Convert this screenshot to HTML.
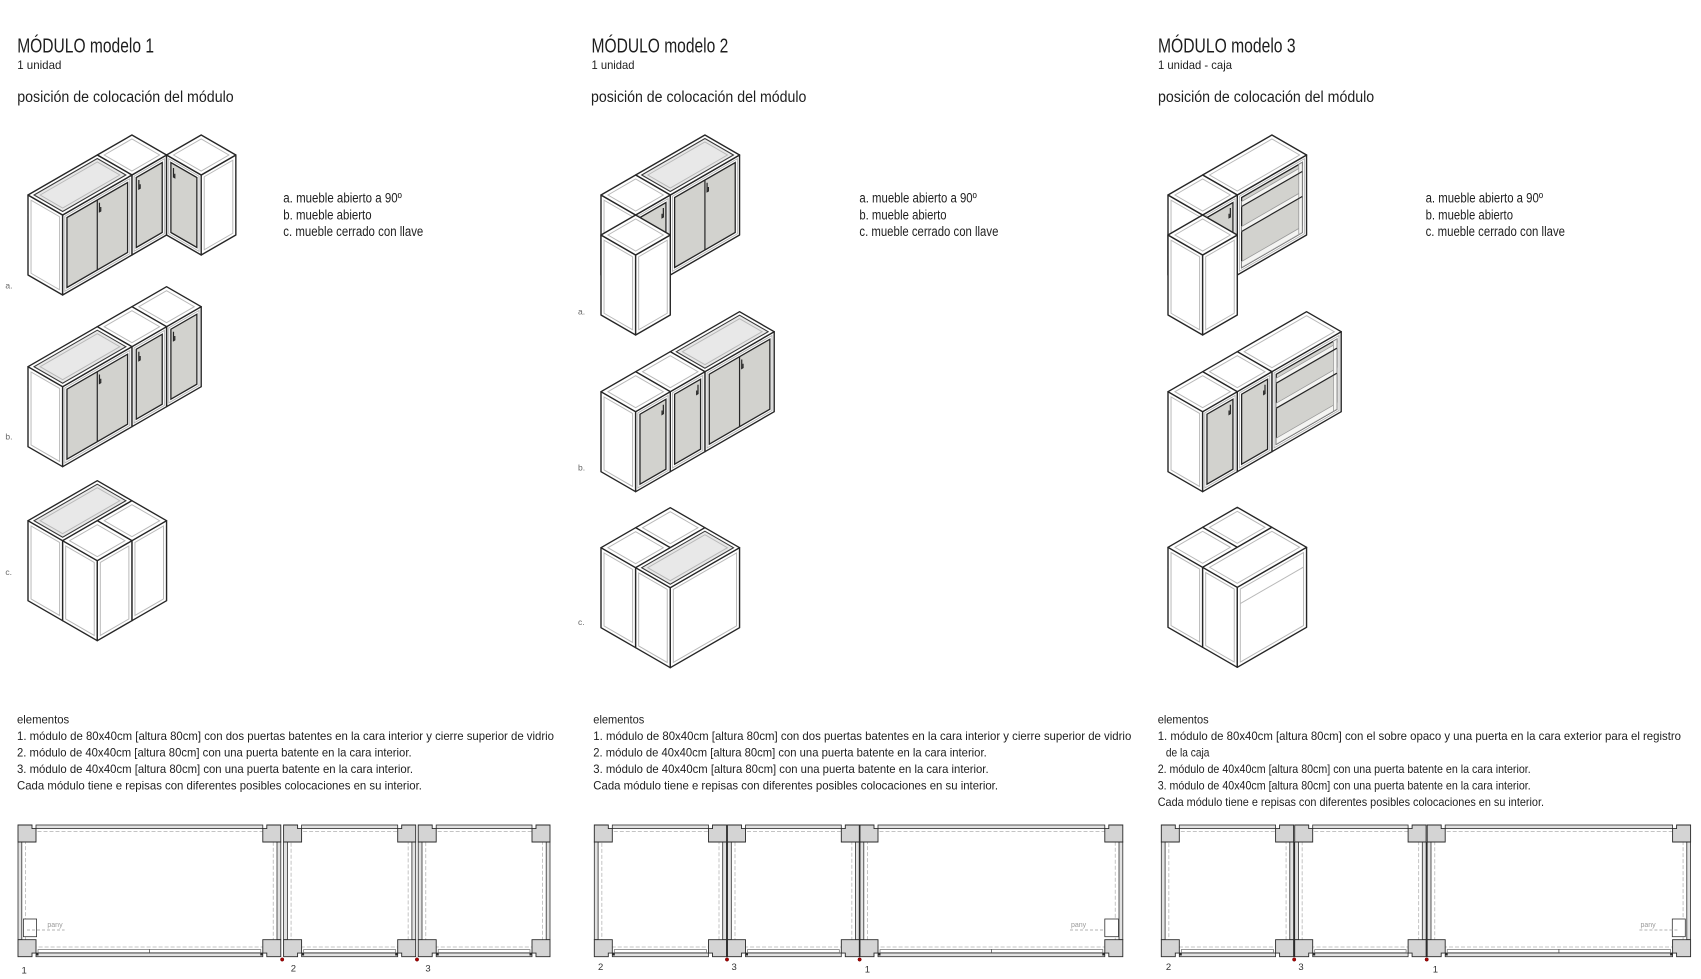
<!DOCTYPE html>
<html><head><meta charset="utf-8">
<style>
html,body{margin:0;padding:0;background:#fff}
svg{display:block}
text{font-family:"Liberation Sans",Arial,sans-serif;fill:#1e1e1e}
.o{fill:#fff;stroke:#262626;stroke-width:1.4;vector-effect:non-scaling-stroke;stroke-linejoin:round}
.i{fill:none;stroke:#b9b9b9;stroke-width:1;vector-effect:non-scaling-stroke}
.d{fill:#d2d2ce;stroke:#262626;stroke-width:1.3;vector-effect:non-scaling-stroke}
.dl{fill:none;stroke:#262626;stroke-width:1.2;vector-effect:non-scaling-stroke}
.gl{fill:#e8e8e8;stroke:#3a3a3a;stroke-width:1.1;vector-effect:non-scaling-stroke}
.sh{fill:#f4f4f2;stroke:#9a9a9a;stroke-width:.8;vector-effect:non-scaling-stroke}
.ws{fill:#e2e2e2;stroke:#2f2f2f;stroke-width:.8}
.dr{fill:#fff;stroke:#6a6a6a;stroke-width:.7}
.dash{fill:none;stroke:#c4c4c4;stroke-width:1;stroke-dasharray:4 2}
.blk{fill:#d4d4d4;stroke:#2a2a2a;stroke-width:.9}
.lab{fill:#666}
.pn{fill:#333}
.pany{fill:#9a9a9a}
</style></head>
<body>
<svg width="1701" height="979" viewBox="0 0 1701 979" xmlns="http://www.w3.org/2000/svg">
<defs>
<path id="btl" d="M0 0H14V3.6H18V17H0Z"/>
</defs>
<rect width="1701" height="979" fill="#fff"/>

<!-- ===== TITLES ===== -->
<text x="17.2" y="52.3" font-size="20.5" textLength="136.8" lengthAdjust="spacingAndGlyphs">MÓDULO modelo 1</text>
<text x="17.2" y="69" font-size="12" textLength="44.2" lengthAdjust="spacingAndGlyphs">1 unidad</text>
<text x="17.2" y="102" font-size="15.5" textLength="216.5" lengthAdjust="spacingAndGlyphs">posición de colocación del módulo</text>

<text x="591.5" y="52.3" font-size="20.5" textLength="136.8" lengthAdjust="spacingAndGlyphs">MÓDULO modelo 2</text>
<text x="591.5" y="69" font-size="12" textLength="43" lengthAdjust="spacingAndGlyphs">1 unidad</text>
<text x="591" y="102" font-size="15.5" textLength="215.4" lengthAdjust="spacingAndGlyphs">posición de colocación del módulo</text>

<text x="1158" y="52.3" font-size="20.5" textLength="137.6" lengthAdjust="spacingAndGlyphs">MÓDULO modelo 3</text>
<text x="1158" y="69" font-size="12" textLength="74" lengthAdjust="spacingAndGlyphs">1 unidad - caja</text>
<text x="1158" y="102" font-size="15.5" textLength="216.2" lengthAdjust="spacingAndGlyphs">posición de colocación del módulo</text>

<!-- legends -->
<text x="283.3" y="202.7" font-size="13.5" textLength="118.5" lengthAdjust="spacingAndGlyphs">a. mueble abierto a 90º</text>
<text x="283.3" y="219.3" font-size="13.5" textLength="88.3" lengthAdjust="spacingAndGlyphs">b. mueble abierto</text>
<text x="283.3" y="236" font-size="13.5" textLength="140" lengthAdjust="spacingAndGlyphs">c. mueble cerrado con llave</text>

<text x="859.4" y="202.7" font-size="13.5" textLength="117.4" lengthAdjust="spacingAndGlyphs">a. mueble abierto a 90º</text>
<text x="859.4" y="219.3" font-size="13.5" textLength="87.2" lengthAdjust="spacingAndGlyphs">b. mueble abierto</text>
<text x="859.4" y="236" font-size="13.5" textLength="139" lengthAdjust="spacingAndGlyphs">c. mueble cerrado con llave</text>

<text x="1425.6" y="202.7" font-size="13.5" textLength="117.4" lengthAdjust="spacingAndGlyphs">a. mueble abierto a 90º</text>
<text x="1425.6" y="219.3" font-size="13.5" textLength="87.4" lengthAdjust="spacingAndGlyphs">b. mueble abierto</text>
<text x="1425.6" y="236" font-size="13.5" textLength="139.4" lengthAdjust="spacingAndGlyphs">c. mueble cerrado con llave</text>

<!-- row labels -->
<text class="lab" x="5.4" y="288.5" font-size="8.5">a.</text>
<text class="lab" x="5.4" y="439.3" font-size="8.5">b.</text>
<text class="lab" x="5.4" y="575" font-size="8.5">c.</text>
<text class="lab" x="578" y="314.3" font-size="8.5">a.</text>
<text class="lab" x="578" y="470.7" font-size="8.5">b.</text>
<text class="lab" x="578" y="625" font-size="8.5">c.</text>

<!-- ===== MODEL 1 DRAWINGS ===== -->
<!-- 1a -->
<g transform="translate(28,275)">
<g transform="matrix(.866,-.5,0,-1,34.64,20)"><rect class="o" x="80" width="40" height="80"/><rect class="i" x="82.5" y="2.5" width="35" height="75"/><rect class="d" x="85" y="5" width="30" height="70"/><path class="dl" d="M88 71V62h1.5v4"/></g>
<g transform="matrix(.866,-.5,.866,.5,0,-80)"><rect class="o" x="80" y="0" width="40" height="40"/><rect class="i" x="84" y="4" width="32" height="32"/></g>
<g transform="matrix(.866,.5,0,-1,103.92,-60)"><rect class="o" x="40" width="40" height="80"/><rect class="i" x="42.5" y="2.5" width="35" height="75"/><rect class="d" x="45" y="5" width="30" height="70"/><path class="dl" d="M48 71V62h1.5v4"/></g>
<g transform="matrix(.866,-.5,0,-1,69.28,40)"><rect class="o" x="120" width="40" height="80"/><rect class="i" x="123.5" y="3.5" width="33" height="73"/></g>
<g transform="matrix(.866,-.5,.866,.5,0,-80)"><rect class="o" x="120" y="40" width="40" height="40"/><rect class="i" x="124" y="44" width="32" height="32"/></g>
<g transform="matrix(.866,.5,0,-1,0,0)"><rect class="o" x="0" width="40" height="80"/><rect class="i" x="3.5" y="3.5" width="33" height="73"/></g>
<g transform="matrix(.866,-.5,0,-1,34.64,20)"><rect class="o" x="0" width="80" height="80"/><rect class="i" x="2.5" y="2.5" width="75" height="75"/><rect class="d" x="5" y="5" width="70" height="70"/><path class="dl" d="M40 5V75M42.5 71V62h1.5v4"/></g>
<g transform="matrix(.866,-.5,.866,.5,0,-80)"><rect class="o" x="0" y="0" width="80" height="40"/><rect class="gl" x="3.5" y="3.5" width="73" height="33"/><rect class="i" x="7" y="7" width="66" height="26"/></g>
</g>

<!-- 1b -->
<g transform="translate(28,446.7)">
<g transform="matrix(.866,-.5,0,-1,34.64,20)"><rect class="o" x="120" width="40" height="80"/><rect class="i" x="122.5" y="2.5" width="35" height="75"/><rect class="d" x="125" y="5" width="30" height="70"/><path class="dl" d="M128 71V62h1.5v4"/></g>
<g transform="matrix(.866,-.5,.866,.5,0,-80)"><rect class="o" x="120" y="0" width="40" height="40"/><rect class="i" x="124" y="4" width="32" height="32"/></g>
<g transform="matrix(.866,-.5,0,-1,34.64,20)"><rect class="o" x="80" width="40" height="80"/><rect class="i" x="82.5" y="2.5" width="35" height="75"/><rect class="d" x="85" y="5" width="30" height="70"/><path class="dl" d="M88 71V62h1.5v4"/></g>
<g transform="matrix(.866,-.5,.866,.5,0,-80)"><rect class="o" x="80" y="0" width="40" height="40"/><rect class="i" x="84" y="4" width="32" height="32"/></g>
<g transform="matrix(.866,.5,0,-1,0,0)"><rect class="o" x="0" width="40" height="80"/><rect class="i" x="3.5" y="3.5" width="33" height="73"/></g>
<g transform="matrix(.866,-.5,0,-1,34.64,20)"><rect class="o" x="0" width="80" height="80"/><rect class="i" x="2.5" y="2.5" width="75" height="75"/><rect class="d" x="5" y="5" width="70" height="70"/><path class="dl" d="M40 5V75M42.5 71V62h1.5v4"/></g>
<g transform="matrix(.866,-.5,.866,.5,0,-80)"><rect class="o" x="0" y="0" width="80" height="40"/><rect class="gl" x="3.5" y="3.5" width="73" height="33"/><rect class="i" x="7" y="7" width="66" height="26"/></g>
</g>

<!-- 1c -->
<g transform="translate(28,600.7)">
<g transform="matrix(.866,.5,0,-1,0,0)"><rect class="o" x="0" width="40" height="80"/><rect class="i" x="3.5" y="3.5" width="33" height="73"/></g>
<g transform="matrix(.866,-.5,.866,.5,0,-80)"><rect class="o" x="0" y="0" width="80" height="40"/><rect class="gl" x="3.5" y="3.5" width="73" height="33"/><rect class="i" x="7" y="7" width="66" height="26"/></g>
<g transform="matrix(.866,-.5,0,-1,69.28,40)"><rect class="o" x="40" width="40" height="80"/><rect class="i" x="43.5" y="3.5" width="33" height="73"/></g>
<g transform="matrix(.866,-.5,.866,.5,0,-80)"><rect class="o" x="40" y="40" width="40" height="40"/><rect class="i" x="44" y="44" width="32" height="32"/></g>
<g transform="matrix(.866,.5,0,-1,0,0)"><rect class="o" x="40" width="40" height="80"/><rect class="i" x="43.5" y="3.5" width="33" height="73"/></g>
<g transform="matrix(.866,-.5,0,-1,69.28,40)"><rect class="o" x="0" width="40" height="80"/><rect class="i" x="3.5" y="3.5" width="33" height="73"/></g>
<g transform="matrix(.866,-.5,.866,.5,0,-80)"><rect class="o" x="0" y="40" width="40" height="40"/><rect class="i" x="4" y="44" width="32" height="32"/></g>
</g>

<!-- ===== MODEL 2 DRAWINGS ===== -->
<!-- 2a -->
<g transform="translate(601,275)">
<g transform="matrix(.866,-.5,0,-1,34.64,20)"><rect class="o" x="40" width="80" height="80"/><rect class="i" x="42.5" y="2.5" width="75" height="75"/><rect class="d" x="45" y="5" width="70" height="70"/><path class="dl" d="M80 5V75M82.5 71V62h1.5v4"/></g>
<g transform="matrix(.866,-.5,.866,.5,0,-80)"><rect class="o" x="40" y="0" width="80" height="40"/><rect class="gl" x="43.5" y="3.5" width="73" height="33"/><rect class="i" x="47" y="7" width="66" height="26"/></g>
<g transform="matrix(.866,.5,0,-1,0,0)"><rect class="o" x="0" width="40" height="80"/><rect class="i" x="3.5" y="3.5" width="33" height="73"/></g>
<g transform="matrix(.866,-.5,0,-1,34.64,20)"><rect class="o" x="0" width="40" height="80"/><rect class="i" x="2.5" y="2.5" width="35" height="75"/><rect class="d" x="5" y="5" width="30" height="70"/><path class="dl" d="M32 71V62h-1.5v4"/></g>
<g transform="matrix(.866,-.5,.866,.5,0,-80)"><rect class="o" x="0" y="0" width="40" height="40"/><rect class="i" x="4" y="4" width="32" height="32"/></g>
<g transform="matrix(.866,.5,0,-1,-34.64,20)"><rect class="o" x="40" width="40" height="80"/><rect class="i" x="43.5" y="3.5" width="33" height="73"/></g>
<g transform="matrix(.866,-.5,0,-1,69.28,40)"><rect class="o" x="-40" width="40" height="80"/><rect class="i" x="-36.5" y="3.5" width="33" height="73"/></g>
<g transform="matrix(.866,-.5,.866,.5,0,-80)"><rect class="o" x="-40" y="40" width="40" height="40"/><rect class="i" x="-36" y="44" width="32" height="32"/></g>
</g>

<!-- 2b -->
<g transform="translate(601,471.7)">
<g transform="matrix(.866,-.5,0,-1,34.64,20)"><rect class="o" x="80" width="80" height="80"/><rect class="i" x="82.5" y="2.5" width="75" height="75"/><rect class="d" x="85" y="5" width="70" height="70"/><path class="dl" d="M120 5V75M122.5 71V62h1.5v4"/></g>
<g transform="matrix(.866,-.5,.866,.5,0,-80)"><rect class="o" x="80" y="0" width="80" height="40"/><rect class="gl" x="83.5" y="3.5" width="73" height="33"/><rect class="i" x="87" y="7" width="66" height="26"/></g>
<g transform="matrix(.866,-.5,0,-1,34.64,20)"><rect class="o" x="40" width="40" height="80"/><rect class="i" x="42.5" y="2.5" width="35" height="75"/><rect class="d" x="45" y="5" width="30" height="70"/><path class="dl" d="M72 71V62h-1.5v4"/></g>
<g transform="matrix(.866,-.5,.866,.5,0,-80)"><rect class="o" x="40" y="0" width="40" height="40"/><rect class="i" x="44" y="4" width="32" height="32"/></g>
<g transform="matrix(.866,.5,0,-1,0,0)"><rect class="o" x="0" width="40" height="80"/><rect class="i" x="3.5" y="3.5" width="33" height="73"/></g>
<g transform="matrix(.866,-.5,0,-1,34.64,20)"><rect class="o" x="0" width="40" height="80"/><rect class="i" x="2.5" y="2.5" width="35" height="75"/><rect class="d" x="5" y="5" width="30" height="70"/><path class="dl" d="M32 71V62h-1.5v4"/></g>
<g transform="matrix(.866,-.5,.866,.5,0,-80)"><rect class="o" x="0" y="0" width="40" height="40"/><rect class="i" x="4" y="4" width="32" height="32"/></g>
</g>

<!-- 2c -->
<g transform="translate(601,627.7)">
<g transform="matrix(.866,-.5,.866,.5,0,-80)"><rect class="o" x="40" y="0" width="40" height="40"/><rect class="i" x="44" y="4" width="32" height="32"/></g>
<g transform="matrix(.866,.5,0,-1,0,0)"><rect class="o" x="0" width="40" height="80"/><rect class="i" x="3.5" y="3.5" width="33" height="73"/></g>
<g transform="matrix(.866,-.5,.866,.5,0,-80)"><rect class="o" x="0" y="0" width="40" height="40"/><rect class="i" x="4" y="4" width="32" height="32"/></g>
<g transform="matrix(.866,.5,0,-1,0,0)"><rect class="o" x="40" width="40" height="80"/><rect class="i" x="43.5" y="3.5" width="33" height="73"/></g>
<g transform="matrix(.866,-.5,0,-1,69.28,40)"><rect class="o" x="0" width="80" height="80"/><rect class="i" x="3.5" y="3.5" width="73" height="73"/></g>
<g transform="matrix(.866,-.5,.866,.5,0,-80)"><rect class="o" x="0" y="40" width="80" height="40"/><rect class="gl" x="3.5" y="43.5" width="73" height="33"/><rect class="i" x="7" y="47" width="66" height="26"/></g>
</g>

<!-- ===== MODEL 3 DRAWINGS ===== -->
<!-- 3a -->
<g transform="translate(1168,275)">
<g transform="matrix(.866,-.5,0,-1,34.64,20)"><rect class="o" x="40" width="80" height="80"/><rect class="i" x="42.5" y="2.5" width="75" height="75"/><rect class="d" x="45" y="5" width="70" height="70"/><rect class="sh" x="45" y="5" width="70" height="6"/><rect class="sh" x="45" y="41" width="70" height="5"/><rect class="sh" x="45" y="66" width="70" height="5"/><rect class="sh" x="111" y="5" width="4" height="70"/><path class="dl" d="M45 41H115M45 66H115"/></g>
<g transform="matrix(.866,-.5,.866,.5,0,-80)"><rect class="o" x="40" y="0" width="80" height="40"/><rect class="i" x="44" y="4" width="72" height="32"/></g>
<g transform="matrix(.866,.5,0,-1,0,0)"><rect class="o" x="0" width="40" height="80"/><rect class="i" x="3.5" y="3.5" width="33" height="73"/></g>
<g transform="matrix(.866,-.5,0,-1,34.64,20)"><rect class="o" x="0" width="40" height="80"/><rect class="i" x="2.5" y="2.5" width="35" height="75"/><rect class="d" x="5" y="5" width="30" height="70"/><path class="dl" d="M32 71V62h-1.5v4"/></g>
<g transform="matrix(.866,-.5,.866,.5,0,-80)"><rect class="o" x="0" y="0" width="40" height="40"/><rect class="i" x="4" y="4" width="32" height="32"/></g>
<g transform="matrix(.866,.5,0,-1,-34.64,20)"><rect class="o" x="40" width="40" height="80"/><rect class="i" x="43.5" y="3.5" width="33" height="73"/></g>
<g transform="matrix(.866,-.5,0,-1,69.28,40)"><rect class="o" x="-40" width="40" height="80"/><rect class="i" x="-36.5" y="3.5" width="33" height="73"/></g>
<g transform="matrix(.866,-.5,.866,.5,0,-80)"><rect class="o" x="-40" y="40" width="40" height="40"/><rect class="i" x="-36" y="44" width="32" height="32"/></g>
</g>

<!-- 3b -->
<g transform="translate(1168,471.7)">
<g transform="matrix(.866,-.5,0,-1,34.64,20)"><rect class="o" x="80" width="80" height="80"/><rect class="i" x="82.5" y="2.5" width="75" height="75"/><rect class="d" x="85" y="5" width="70" height="70"/><rect class="sh" x="85" y="5" width="70" height="6"/><rect class="sh" x="85" y="41" width="70" height="5"/><rect class="sh" x="85" y="66" width="70" height="5"/><rect class="sh" x="151" y="5" width="4" height="70"/><path class="dl" d="M85 41H155M85 66H155"/></g>
<g transform="matrix(.866,-.5,.866,.5,0,-80)"><rect class="o" x="80" y="0" width="80" height="40"/><rect class="i" x="84" y="4" width="72" height="32"/></g>
<g transform="matrix(.866,-.5,0,-1,34.64,20)"><rect class="o" x="40" width="40" height="80"/><rect class="i" x="42.5" y="2.5" width="35" height="75"/><rect class="d" x="45" y="5" width="30" height="70"/><path class="dl" d="M72 71V62h-1.5v4"/></g>
<g transform="matrix(.866,-.5,.866,.5,0,-80)"><rect class="o" x="40" y="0" width="40" height="40"/><rect class="i" x="44" y="4" width="32" height="32"/></g>
<g transform="matrix(.866,.5,0,-1,0,0)"><rect class="o" x="0" width="40" height="80"/><rect class="i" x="3.5" y="3.5" width="33" height="73"/></g>
<g transform="matrix(.866,-.5,0,-1,34.64,20)"><rect class="o" x="0" width="40" height="80"/><rect class="i" x="2.5" y="2.5" width="35" height="75"/><rect class="d" x="5" y="5" width="30" height="70"/><path class="dl" d="M32 71V62h-1.5v4"/></g>
<g transform="matrix(.866,-.5,.866,.5,0,-80)"><rect class="o" x="0" y="0" width="40" height="40"/><rect class="i" x="4" y="4" width="32" height="32"/></g>
</g>

<!-- 3c -->
<g transform="translate(1168,627.3)">
<g transform="matrix(.866,-.5,.866,.5,0,-80)"><rect class="o" x="40" y="0" width="40" height="40"/><rect class="i" x="44" y="4" width="32" height="32"/></g>
<g transform="matrix(.866,.5,0,-1,0,0)"><rect class="o" x="0" width="40" height="80"/><rect class="i" x="3.5" y="3.5" width="33" height="73"/></g>
<g transform="matrix(.866,-.5,.866,.5,0,-80)"><rect class="o" x="0" y="0" width="40" height="40"/><rect class="i" x="4" y="4" width="32" height="32"/></g>
<g transform="matrix(.866,.5,0,-1,0,0)"><rect class="o" x="40" width="40" height="80"/><rect class="i" x="43.5" y="3.5" width="33" height="73"/></g>
<g transform="matrix(.866,-.5,0,-1,69.28,40)"><rect class="o" x="0" width="80" height="80"/><rect class="i" x="3.5" y="3.5" width="73" height="73"/><path class="i" d="M3.5 62H76.5"/></g>
<g transform="matrix(.866,-.5,.866,.5,0,-80)"><rect class="o" x="0" y="40" width="80" height="40"/><rect class="i" x="4" y="44" width="72" height="32"/></g>
</g>

<!-- ===== ELEMENTOS TEXT ===== -->
<g font-size="12">
<text x="17" y="723.5" textLength="52.2" lengthAdjust="spacingAndGlyphs">elementos</text>
<text x="17" y="740" textLength="537" lengthAdjust="spacingAndGlyphs">1. módulo de 80x40cm [altura 80cm] con dos puertas batentes en la cara interior y cierre superior de vidrio</text>
<text x="17" y="756.5" textLength="394.6" lengthAdjust="spacingAndGlyphs">2. módulo de 40x40cm [altura 80cm] con una puerta batente en la cara interior.</text>
<text x="17" y="773" textLength="396" lengthAdjust="spacingAndGlyphs">3. módulo de 40x40cm [altura 80cm] con una puerta batente en la cara interior.</text>
<text x="17" y="789.5" textLength="404.9" lengthAdjust="spacingAndGlyphs">Cada módulo tiene e repisas con diferentes posibles colocaciones en su interior.</text>

<text x="593.3" y="723.5" textLength="51" lengthAdjust="spacingAndGlyphs">elementos</text>
<text x="593.3" y="740" textLength="538" lengthAdjust="spacingAndGlyphs">1. módulo de 80x40cm [altura 80cm] con dos puertas batentes en la cara interior y cierre superior de vidrio</text>
<text x="593.3" y="756.5" textLength="393.4" lengthAdjust="spacingAndGlyphs">2. módulo de 40x40cm [altura 80cm] con una puerta batente en la cara interior.</text>
<text x="593.3" y="773" textLength="395.3" lengthAdjust="spacingAndGlyphs">3. módulo de 40x40cm [altura 80cm] con una puerta batente en la cara interior.</text>
<text x="593.3" y="789.5" textLength="404.7" lengthAdjust="spacingAndGlyphs">Cada módulo tiene e repisas con diferentes posibles colocaciones en su interior.</text>

<text x="1157.7" y="723.5" textLength="51" lengthAdjust="spacingAndGlyphs">elementos</text>
<text x="1157.7" y="740" textLength="523.3" lengthAdjust="spacingAndGlyphs">1. módulo de 80x40cm [altura 80cm] con el sobre opaco y una puerta en la cara exterior para el registro</text>
<text x="1165.9" y="756.5" textLength="43.5" lengthAdjust="spacingAndGlyphs">de la caja</text>
<text x="1157.7" y="773" textLength="373" lengthAdjust="spacingAndGlyphs">2. módulo de 40x40cm [altura 80cm] con una puerta batente en la cara interior.</text>
<text x="1157.7" y="789.5" textLength="373" lengthAdjust="spacingAndGlyphs">3. módulo de 40x40cm [altura 80cm] con una puerta batente en la cara interior.</text>
<text x="1157.7" y="806" textLength="386.3" lengthAdjust="spacingAndGlyphs">Cada módulo tiene e repisas con diferentes posibles colocaciones en su interior.</text>
</g>

<!-- ===== PLANS ===== -->
<g class="dash">
<rect x="25.5" y="831.5" width="247.8" height="115.5"/>
<rect x="291.1" y="831.5" width="117.1" height="115.5"/>
<rect x="425.7" y="831.5" width="116.8" height="115.5"/>
<rect x="601.8" y="831.5" width="117.2" height="115.5"/>
<rect x="735" y="831.5" width="116.8" height="115.5"/>
<rect x="867.5" y="831.5" width="247.8" height="115.5"/>
<rect x="1168.8" y="831.5" width="117.3" height="115.5"/>
<rect x="1302.2" y="831.5" width="116.4" height="115.5"/>
<rect x="1434.7" y="831.5" width="248.4" height="115.5"/>
</g>

<g class="ws">
<!-- model 1 -->
<rect x="36" y="825" width="226.8" height="3.6"/><rect x="18" y="842" width="3.8" height="97.7"/><rect x="277" y="842" width="3.8" height="97.7"/><rect x="36" y="953" width="226.8" height="3.7"/>
<rect x="301.6" y="825" width="96.1" height="3.6"/><rect x="283.6" y="842" width="3.8" height="97.7"/><rect x="411.9" y="842" width="3.8" height="97.7"/><rect x="301.6" y="953" width="96.1" height="3.7"/>
<rect x="436.2" y="825" width="95.8" height="3.6"/><rect x="418.2" y="842" width="3.8" height="97.7"/><rect x="546.2" y="842" width="3.8" height="97.7"/><rect x="436.2" y="953" width="95.8" height="3.7"/>
<!-- model 2 -->
<rect x="612.3" y="825" width="96.2" height="3.6"/><rect x="594.3" y="842" width="3.8" height="97.7"/><rect x="722.7" y="842" width="3.8" height="97.7"/><rect x="612.3" y="953" width="96.2" height="3.7"/>
<rect x="745.5" y="825" width="95.8" height="3.6"/><rect x="727.5" y="842" width="3.8" height="97.7"/><rect x="855.5" y="842" width="3.8" height="97.7"/><rect x="745.5" y="953" width="95.8" height="3.7"/>
<rect x="878" y="825" width="226.8" height="3.6"/><rect x="860" y="842" width="3.8" height="97.7"/><rect x="1119" y="842" width="3.8" height="97.7"/><rect x="878" y="953" width="226.8" height="3.7"/>
<!-- model 3 -->
<rect x="1179.3" y="825" width="96.3" height="3.6"/><rect x="1161.3" y="842" width="3.8" height="97.7"/><rect x="1289.8" y="842" width="3.8" height="97.7"/><rect x="1179.3" y="953" width="96.3" height="3.7"/>
<rect x="1312.7" y="825" width="95.4" height="3.6"/><rect x="1294.7" y="842" width="3.8" height="97.7"/><rect x="1422.3" y="842" width="3.8" height="97.7"/><rect x="1312.7" y="953" width="95.4" height="3.7"/>
<rect x="1445.2" y="825" width="227.4" height="3.6"/><rect x="1427.2" y="842" width="3.8" height="97.7"/><rect x="1686.8" y="842" width="3.8" height="97.7"/><rect x="1445.2" y="953" width="227.4" height="3.7"/>
</g>

<g class="dr">
<rect x="38" y="949.6" width="222.8" height="3"/>
<rect x="303.6" y="949.6" width="92.1" height="3"/>
<rect x="438.2" y="949.6" width="91.8" height="3"/>
<rect x="614.3" y="949.6" width="92.2" height="3"/>
<rect x="747.5" y="949.6" width="91.8" height="3"/>
<rect x="880" y="949.6" width="222.8" height="3"/>
<rect x="1181.3" y="949.6" width="92.3" height="3"/>
<rect x="1314.7" y="949.6" width="91.4" height="3"/>
<rect x="1447.2" y="949.6" width="223.4" height="3"/>
</g>
<g stroke="#555" stroke-width=".8">
<line x1="149.4" y1="949" x2="149.4" y2="953"/>
<line x1="991.4" y1="949" x2="991.4" y2="953"/>
<line x1="1558.9" y1="949" x2="1558.9" y2="953"/>
</g>

<g stroke="#2a2a2a" stroke-width="1.4">
<line x1="727" y1="842" x2="727" y2="957"/>
<line x1="859.6" y1="842" x2="859.6" y2="957"/>
<line x1="1294.2" y1="842" x2="1294.2" y2="957"/>
<line x1="1426.7" y1="842" x2="1426.7" y2="957"/>
</g>

<g class="blk">
<use href="#btl" transform="translate(18,825)"/><use href="#btl" transform="translate(280.8,825) scale(-1,1)"/><use href="#btl" transform="translate(18,956.7) scale(1,-1)"/><use href="#btl" transform="translate(280.8,956.7) scale(-1,-1)"/>
<use href="#btl" transform="translate(283.6,825)"/><use href="#btl" transform="translate(415.7,825) scale(-1,1)"/><use href="#btl" transform="translate(283.6,956.7) scale(1,-1)"/><use href="#btl" transform="translate(415.7,956.7) scale(-1,-1)"/>
<use href="#btl" transform="translate(418.2,825)"/><use href="#btl" transform="translate(550,825) scale(-1,1)"/><use href="#btl" transform="translate(418.2,956.7) scale(1,-1)"/><use href="#btl" transform="translate(550,956.7) scale(-1,-1)"/>

<use href="#btl" transform="translate(594.3,825)"/><use href="#btl" transform="translate(726.5,825) scale(-1,1)"/><use href="#btl" transform="translate(594.3,956.7) scale(1,-1)"/><use href="#btl" transform="translate(726.5,956.7) scale(-1,-1)"/>
<use href="#btl" transform="translate(727.5,825)"/><use href="#btl" transform="translate(859.3,825) scale(-1,1)"/><use href="#btl" transform="translate(727.5,956.7) scale(1,-1)"/><use href="#btl" transform="translate(859.3,956.7) scale(-1,-1)"/>
<use href="#btl" transform="translate(860,825)"/><use href="#btl" transform="translate(1122.8,825) scale(-1,1)"/><use href="#btl" transform="translate(860,956.7) scale(1,-1)"/><use href="#btl" transform="translate(1122.8,956.7) scale(-1,-1)"/>

<use href="#btl" transform="translate(1161.3,825)"/><use href="#btl" transform="translate(1293.6,825) scale(-1,1)"/><use href="#btl" transform="translate(1161.3,956.7) scale(1,-1)"/><use href="#btl" transform="translate(1293.6,956.7) scale(-1,-1)"/>
<use href="#btl" transform="translate(1294.7,825)"/><use href="#btl" transform="translate(1426.1,825) scale(-1,1)"/><use href="#btl" transform="translate(1294.7,956.7) scale(1,-1)"/><use href="#btl" transform="translate(1426.1,956.7) scale(-1,-1)"/>
<use href="#btl" transform="translate(1427.2,825)"/><use href="#btl" transform="translate(1690.6,825) scale(-1,1)"/><use href="#btl" transform="translate(1427.2,956.7) scale(1,-1)"/><use href="#btl" transform="translate(1690.6,956.7) scale(-1,-1)"/>
</g>

<g fill="#2a2a2a">
<rect x="36" y="953" width="2.5" height="2.5"/><rect x="260.3" y="953" width="2.5" height="2.5"/>
<rect x="301.6" y="953" width="2.5" height="2.5"/><rect x="395.2" y="953" width="2.5" height="2.5"/>
<rect x="436.2" y="953" width="2.5" height="2.5"/><rect x="529.5" y="953" width="2.5" height="2.5"/>
<rect x="612.3" y="953" width="2.5" height="2.5"/><rect x="745.5" y="953" width="2.5" height="2.5"/><rect x="878" y="953" width="2.5" height="2.5"/><rect x="1102.3" y="953" width="2.5" height="2.5"/>
<rect x="1179.3" y="953" width="2.5" height="2.5"/><rect x="1312.7" y="953" width="2.5" height="2.5"/><rect x="1445.2" y="953" width="2.5" height="2.5"/><rect x="1670.1" y="953" width="2.5" height="2.5"/>
</g>

<g fill="#b00000" stroke="#5a0000" stroke-width=".5">
<circle cx="282.2" cy="959.5" r="1.7"/><circle cx="417" cy="959.5" r="1.7"/>
<circle cx="727" cy="959.5" r="1.7"/><circle cx="859.6" cy="959.5" r="1.7"/>
<circle cx="1294.2" cy="959.5" r="1.7"/><circle cx="1426.7" cy="959.5" r="1.7"/>
</g>

<g fill="#fff" stroke="#333" stroke-width=".8">
<rect x="23.4" y="919" width="13.2" height="17.7"/>
<rect x="1104.8" y="919" width="13.7" height="17.7"/>
<rect x="1672.3" y="919" width="13" height="17.7"/>
</g>
<g stroke="#9a9a9a" stroke-width=".8" stroke-dasharray="3 2">
<line x1="27" y1="930" x2="64.6" y2="930"/>
<line x1="1070" y1="930" x2="1104.8" y2="930"/>
<line x1="1639.4" y1="930" x2="1677.9" y2="930"/>
</g>
<text class="pany" x="47.4" y="927" font-size="7">pany</text>
<text class="pany" x="1071" y="927" font-size="7">pany</text>
<text class="pany" x="1640.5" y="927" font-size="7">pany</text>

<g font-size="9.5">
<text class="pn" x="21.5" y="973.3">1</text>
<text class="pn" x="290.8" y="971.7">2</text>
<text class="pn" x="425.4" y="971.7">3</text>
<text class="pn" x="598" y="970">2</text>
<text class="pn" x="731.5" y="970">3</text>
<text class="pn" x="864.7" y="972.3">1</text>
<text class="pn" x="1165.9" y="970">2</text>
<text class="pn" x="1298.4" y="970">3</text>
<text class="pn" x="1432.7" y="972.3">1</text>
</g>
</svg>
</body></html>
